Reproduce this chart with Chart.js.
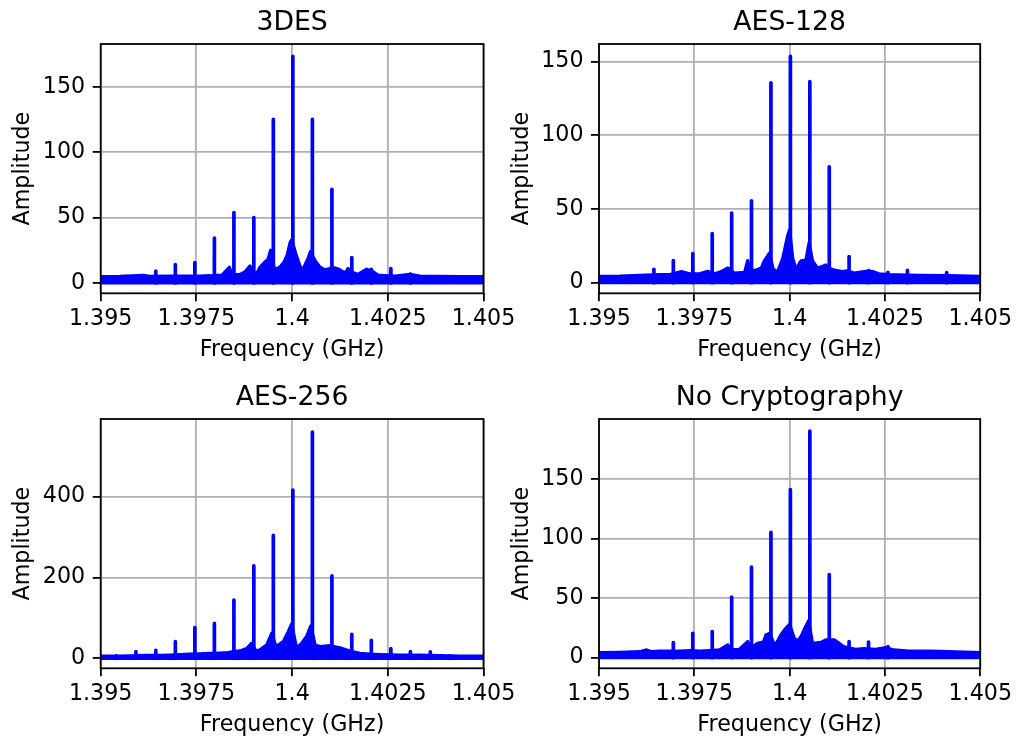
<!DOCTYPE html>
<html>
<head>
<meta charset="utf-8">
<script src="https://cdn.jsdelivr.net/npm/chart.js@4"></script>
<style>
  html, body { margin: 0; padding: 0; background: #ffffff; }
  #wrap { position: relative; width: 1017px; height: 740px; overflow: hidden; }
  #wrap canvas { position: absolute; left: 0; top: 0; }
</style>
</head>
<body>
<div id="wrap">
  <canvas id="c1" width="1017" height="740"></canvas>
  <canvas id="c2" width="1017" height="740"></canvas>
  <canvas id="c3" width="1017" height="740"></canvas>
  <canvas id="c4" width="1017" height="740"></canvas>
</div>
<script>
// ---------------- DATA ----------------
const titles = ['3DES', 'AES-128', 'AES-256', 'No Cryptography'];
const xTickValues = [1.395, 1.3975, 1.4, 1.4025, 1.405];
const xTickLabels = ['1.395', '1.3975', '1.4', '1.4025', '1.405'];

// lower edge of the noise band (same for all panels)
const lowerFreq = [1.395, 1.405];
const lowerAmp  = [0, 0];

// 3DES
const des3FloorFreq = [1.395, 1.3955, 1.39611, 1.39629, 1.39681, 1.3972, 1.39759, 1.39786, 1.39817, 1.39836, 1.39843, 1.39864, 1.39877, 1.3989, 1.39895, 1.39908, 1.39916, 1.39929, 1.39937, 1.39944, 1.39947, 1.39958, 1.39968, 1.39979, 1.39987, 1.39995, 1.39999, 1.4001, 1.40018, 1.40026, 1.40034, 1.40042, 1.40048, 1.4006, 1.40073, 1.40086, 1.40099, 1.40112, 1.40125, 1.40138, 1.40146, 1.40159, 1.40172, 1.40195, 1.40209, 1.40224, 1.40243, 1.40269, 1.40308, 1.40334, 1.40386, 1.40439, 1.405];
const des3FloorAmp  = [4.8, 5, 5.8, 5, 5.2, 5.2, 5.3, 5.5, 6, 12, 6, 6.5, 8.5, 13, 8, 7.5, 12, 16, 18, 25, 14, 10.5, 12, 16, 21, 31, 33, 22, 15, 9, 14, 19, 24, 17, 12, 10, 11, 11.5, 10, 7.5, 11, 8, 6.5, 10.5, 9, 6, 5.6, 5.2, 6.5, 5.2, 5, 4.8, 4.8];
const des3SpikeFreq = [1.39644, 1.39695, 1.39746, 1.39797, 1.39848, 1.399, 1.39951, 1.40002, 1.40053, 1.40104, 1.40156, 1.40207, 1.40258, 1.40309];
const des3SpikeAmp  = [9, 14, 15.6, 34.3, 53.8, 50, 125, 173.3, 125, 71.5, 19.4, 10.5, 11, 6.7];
const des3YTicks = [0, 50, 100, 150];

// AES-128
const aes128FloorFreq = [1.395, 1.39555, 1.39607, 1.39659, 1.39686, 1.39716, 1.39738, 1.39764, 1.39785, 1.39803, 1.39821, 1.39838, 1.39855, 1.39882, 1.3989, 1.39897, 1.39912, 1.39926, 1.39934, 1.39942, 1.39947, 1.39957, 1.39969, 1.39982, 1.39995, 1.4, 1.40008, 1.40017, 1.4003, 1.40043, 1.40051, 1.4006, 1.40073, 1.40085, 1.40095, 1.40101, 1.40117, 1.40138, 1.40151, 1.40169, 1.402, 1.40216, 1.40234, 1.4026, 1.40339, 1.40417, 1.405];
const aes128FloorAmp  = [4.3, 4.5, 5, 5.5, 5.5, 7.5, 6, 6, 7.7, 6, 7.5, 10, 6.5, 7, 15, 8, 8.6, 10, 15, 18, 20, 9, 7.5, 16.5, 32, 36, 16.5, 9, 14.8, 15.4, 27, 14.8, 10, 11, 12, 10, 8.6, 7.5, 8, 6.5, 7.7, 7.7, 6, 5.5, 5, 4.7, 4.3];
const aes128SpikeFreq = [1.39644, 1.39695, 1.39746, 1.39797, 1.39848, 1.399, 1.39951, 1.40002, 1.40053, 1.40104, 1.40156, 1.40207, 1.40258, 1.40309, 1.40412];
const aes128SpikeAmp  = [9.1, 15, 19.7, 33.3, 47.3, 55.5, 135.7, 153.6, 136.4, 78.7, 17.7, 8.2, 7, 8.4, 6.8];
const aes128YTicks = [0, 50, 100, 150];

// AES-256
const aes256FloorFreq = [1.395, 1.39537, 1.39545, 1.39577, 1.39616, 1.39655, 1.39681, 1.39707, 1.39733, 1.39759, 1.39786, 1.39812, 1.39833, 1.39843, 1.39864, 1.39881, 1.39894, 1.39906, 1.39916, 1.39934, 1.39947, 1.39958, 1.39977, 1.3999, 1.39999, 1.40009, 1.40013, 1.40025, 1.40038, 1.40049, 1.4006, 1.40073, 1.40099, 1.40125, 1.40151, 1.40177, 1.40204, 1.4023, 1.40256, 1.40282, 1.40303, 1.40334, 1.40386, 1.40439, 1.405];
const aes256FloorAmp  = [5, 5.5, 5.5, 6, 7, 7, 8, 9, 10, 11, 12, 13, 14, 16, 18, 24, 37, 18, 20.6, 33, 62, 28.8, 41, 66, 85, 37, 26, 37, 54, 80, 33, 28.8, 31, 26, 18, 12, 10, 9, 8.3, 7.5, 8, 7.5, 6.5, 5.5, 5];
const aes256SpikeFreq = [1.39541, 1.39592, 1.39644, 1.39695, 1.39746, 1.39797, 1.39848, 1.399, 1.39951, 1.40002, 1.40053, 1.40104, 1.40156, 1.40207, 1.40258, 1.40309, 1.40361, 1.40412];
const aes256SpikeAmp  = [6, 16.4, 19.6, 41, 75.7, 86.3, 144, 228.8, 304.6, 416.5, 559.6, 204, 59, 44.3, 23.8, 16.4, 16, 6];
const aes256YTicks = [0, 200, 400];

// No Cryptography
const noneFloorFreq = [1.395, 1.39555, 1.39607, 1.39625, 1.39638, 1.39659, 1.39686, 1.39712, 1.39738, 1.39764, 1.3979, 1.39816, 1.39838, 1.39845, 1.39868, 1.3989, 1.39897, 1.39916, 1.39931, 1.39938, 1.39948, 1.39957, 1.39964, 1.39977, 1.3999, 1.4, 1.40012, 1.40021, 1.4003, 1.40038, 1.4005, 1.4006, 1.40082, 1.40095, 1.40117, 1.4013, 1.40143, 1.40173, 1.40195, 1.40226, 1.40252, 1.40273, 1.40313, 1.40365, 1.40417, 1.405];
const noneFloorAmp  = [4.2, 4.5, 5, 6.5, 5, 5.5, 5.5, 5.5, 6, 5.5, 6, 6.5, 10.7, 6.5, 7, 13.5, 8, 12, 13, 19, 20.5, 13, 11.3, 19, 24.7, 28, 16.3, 14, 17.7, 23.4, 31, 12, 12.8, 14.9, 14.9, 12, 9, 7, 7.5, 7, 8.5, 6.5, 5.5, 5.5, 5, 4.2];
const noneSpikeFreq = [1.39695, 1.39746, 1.39797, 1.39848, 1.399, 1.39951, 1.40002, 1.40053, 1.40104, 1.40156, 1.40207, 1.40258];
const noneSpikeAmp  = [12.7, 20.5, 21.9, 50.8, 76, 105.3, 141.2, 190.3, 69.7, 13.5, 13, 9.3];
const noneYTicks = [0, 50, 100, 150];

// ---------------- LAYOUT / STYLE ----------------
const FONT = 'DejaVu Sans';
const LABEL_PX = 22.2;
const TITLE_PX = 26.7;

const panels = [
  { id: 'c1', title: titles[0], ff: des3FloorFreq, fa: des3FloorAmp, sf: des3SpikeFreq, sa: des3SpikeAmp, yt: des3YTicks, ymin: -7.9, ymax: 182.7, area: [100.7, 44, 483.5, 293.3] },
  { id: 'c2', title: titles[1], ff: aes128FloorFreq, fa: aes128FloorAmp, sf: aes128SpikeFreq, sa: aes128SpikeAmp, yt: aes128YTicks, ymin: -7.2, ymax: 162.0, area: [599, 44, 981.7, 293.3] },
  { id: 'c3', title: titles[2], ff: aes256FloorFreq, fa: aes256FloorAmp, sf: aes256SpikeFreq, sa: aes256SpikeAmp, yt: aes256YTicks, ymin: -24.8, ymax: 592.3, area: [100.7, 419, 483.5, 668.3] },
  { id: 'c4', title: titles[3], ff: noneFloorFreq, fa: noneFloorAmp, sf: noneSpikeFreq, sa: noneSpikeAmp, yt: noneYTicks, ymin: -8.9, ymax: 200.4, area: [599, 419, 981.7, 668.3] }
];

const Y_AXIS_W = 100;
const X_AXIS_H = 70;

const framePlugin = {
  id: 'frame',
  afterDatasetsDraw(chart) {
    const { ctx, chartArea: a } = chart;
    ctx.save();
    ctx.strokeStyle = '#000';
    ctx.lineWidth = 1.8;
    ctx.strokeRect(a.left, a.top, a.right - a.left, a.bottom - a.top);
    ctx.restore();
  },
  afterDraw(chart, args, opts) {
    const { ctx, chartArea: a } = chart;
    ctx.save();
    ctx.fillStyle = '#000';
    ctx.font = TITLE_PX + 'px "' + FONT + '"';
    ctx.textAlign = 'center';
    ctx.textBaseline = 'alphabetic';
    ctx.fillText(opts.text, (a.left + a.right) / 2, a.top - 14.3);
    ctx.restore();
  }
};

const lineStyle = {
  borderColor: '#0000ff',
  backgroundColor: '#0000ff',
  borderJoinStyle: 'round',
  borderCapStyle: 'round',
  pointRadius: 0,
  tension: 0
};

panels.forEach(p => {
  const floorData = p.ff.map((f, i) => ({ x: f, y: p.fa[i] }));
  const lowerData = lowerFreq.map((f, i) => ({ x: f, y: lowerAmp[i] }));
  const spikeData = [];
  p.sf.forEach((f, i) => {
    spikeData.push({ x: f, y: 0 }, { x: f, y: p.sa[i] }, { x: f, y: null });
  });
  const [L, T, R, B] = p.area;
  new Chart(document.getElementById(p.id), {
    type: 'line',
    data: {
      datasets: [
        Object.assign({ data: lowerData, borderWidth: 3.3, fill: false }, lineStyle),
        Object.assign({ data: floorData, borderWidth: 3.3, fill: 'origin' }, lineStyle),
        Object.assign({ data: spikeData, borderWidth: 3.7, fill: false, spanGaps: false }, lineStyle)
      ]
    },
    options: {
      responsive: false,
      animation: false,
      events: [],
      layout: {
        autoPadding: false,
        padding: { left: L - Y_AXIS_W, top: T, right: 1017 - R, bottom: 740 - B - X_AXIS_H }
      },
      plugins: {
        legend: { display: false },
        tooltip: { enabled: false },
        frame: { text: p.title }
      },
      scales: {
        x: {
          type: 'linear',
          min: 1.395,
          max: 1.405,
          afterFit(s) { s.height = X_AXIS_H; },
          afterBuildTicks(s) { s.ticks = xTickValues.map(v => ({ value: v })); },
          ticks: {
            autoSkip: false,
            maxRotation: 0,
            minRotation: 0,
            padding: 5,
            color: '#000',
            font: { family: FONT, size: LABEL_PX },
            callback: (v, i) => xTickLabels[i]
          },
          grid: { color: '#b0b0b0', lineWidth: 1.8, tickColor: '#000', tickLength: 8, tickWidth: 1.8, drawTicks: true },
          border: { display: false },
          title: { display: true, text: 'Frequency (GHz)', color: '#000', font: { family: FONT, size: LABEL_PX }, padding: { top: 0, bottom: 0 } }
        },
        y: {
          type: 'linear',
          min: p.ymin,
          max: p.ymax,
          afterFit(s) { s.width = Y_AXIS_W; },
          afterBuildTicks(s) { s.ticks = p.yt.map(v => ({ value: v })); },
          ticks: {
            padding: 7.5,
            color: '#000',
            font: { family: FONT, size: LABEL_PX },
            callback: v => String(v)
          },
          grid: { color: '#b0b0b0', lineWidth: 1.8, tickColor: '#000', tickLength: 8, tickWidth: 1.8, drawTicks: true },
          border: { display: false },
          title: { display: true, text: 'Amplitude', color: '#000', font: { family: FONT, size: LABEL_PX }, padding: { top: 9.5, bottom: 0 } }
        }
      }
    },
    plugins: [framePlugin]
  });
});
</script>
</body>
</html>
